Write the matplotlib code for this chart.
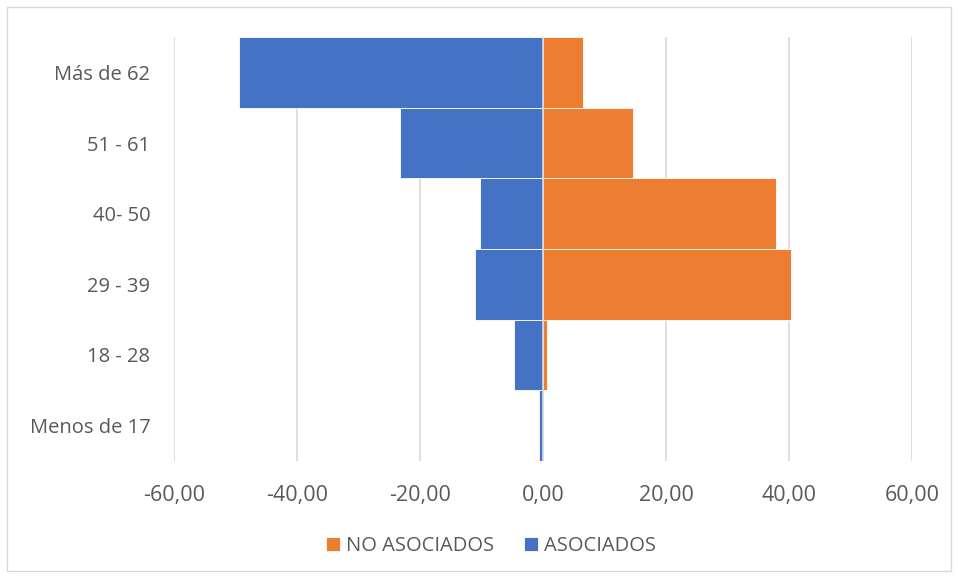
import matplotlib.pyplot as plt
from matplotlib.patches import Rectangle
from matplotlib.ticker import FuncFormatter

# Age groups, bottom to top
groups = ["Menos de 17", "18 - 28", "29 - 39", "40- 50", "51 - 61", "Más de 62"]
asociados = [-0.7, -4.7, -11.1, -10.3, -23.2, -49.5]
no_asociados = [0.0, 0.6, 40.3, 37.9, 14.6, 6.5]

blue = "#4472C4"
orange = "#ED7D31"
text_gray = "#595959"

plt.rcParams["font.family"] = ["Open Sans", "DejaVu Sans"]

fig = plt.figure(figsize=(9.58, 5.78), dpi=100)
ax = fig.add_axes([174 / 958, 1 - 461 / 578, (912 - 174) / 958, (461 - 37) / 578])

y = range(len(groups))
ax.barh(y, no_asociados, height=1.0, color=orange, edgecolor="white",
        linewidth=0.6, label="NO ASOCIADOS", zorder=2)
ax.barh(y, asociados, height=1.0, color=blue, edgecolor="white",
        linewidth=0.6, label="ASOCIADOS", zorder=2)
ax.axvline(0, color="#D9D9D9", linewidth=1.2, zorder=3)

ax.set_xlim(-60, 60)
ax.set_ylim(-0.5, len(groups) - 0.5)
ax.set_xticks(range(-60, 61, 20))
ax.xaxis.set_major_formatter(FuncFormatter(lambda v, p: f"{v:.2f}".replace(".", ",")))
ax.set_yticks(list(y))
ax.set_yticklabels(groups)

ax.grid(axis="x", color="#D9D9D9", linewidth=1.2, zorder=0)
ax.set_axisbelow(True)
for s in ax.spines.values():
    s.set_visible(False)
ax.tick_params(axis="both", length=0, colors=text_gray)
ax.tick_params(axis="y", pad=17, labelsize=14.5)
ax.tick_params(axis="x", pad=17, labelsize=15.5)

ax.legend(loc="center", bbox_to_anchor=(491 / 958, 1 - 546 / 578),
          bbox_transform=fig.transFigure, ncol=2, frameon=False,
          handlelength=0.7, handleheight=0.7, handletextpad=0.3,
          columnspacing=1.45, fontsize=14.5, labelcolor=text_gray)

# chart area border
fig.patches.append(Rectangle((7 / 958, 7 / 578), 1 - 14 / 958, 1 - 14 / 578,
                             transform=fig.transFigure, fill=False,
                             edgecolor="#D9D9D9", linewidth=1))

fig.savefig("out.png", dpi=100)
